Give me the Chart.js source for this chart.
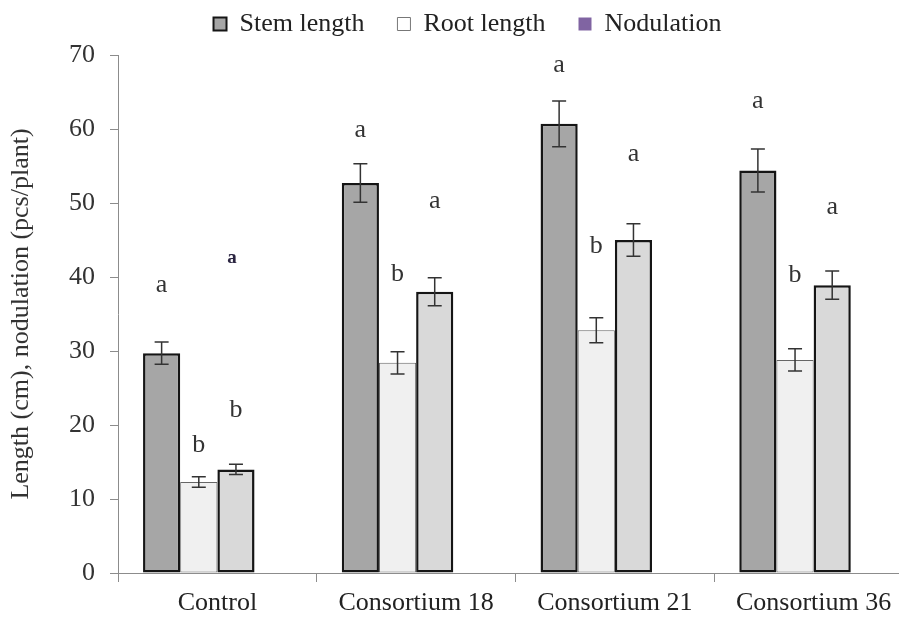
<!DOCTYPE html>
<html>
<head>
<meta charset="utf-8">
<title>Stem length, root length and nodulation</title>
<script src="https://cdn.jsdelivr.net/npm/chart.js@4.4.1/dist/chart.umd.min.js"></script>
<style>
  html, body { margin: 0; padding: 0; background: #fff; overflow: hidden; }
  #wrap { width: 915px; height: 617px; }
</style>
</head>
<body>
<div id="wrap"><canvas id="growthChart"></canvas></div>
<script>
const categories = ["Control", "Consortium 18", "Consortium 21", "Consortium 36"];

const stemLength = [29.7, 52.7, 60.7, 54.4];
const stemError = [1.5, 2.6, 3.1, 2.9];
const stemLetters = ["a", "a", "a", "a"];
const stemLetterAt = [38.9, 59.9, 68.6, 63.7];

const rootLength = [12.3, 28.4, 32.8, 28.8];
const rootError = [0.7, 1.5, 1.7, 1.5];
const rootLetters = ["b", "b", "b", "b"];
const rootLetterAt = [17.3, 40.4, 44.1, 40.3];

// third (light grey) bar of each group, it has no legend entry
const greyBar = [14.0, 38.0, 45.0, 38.9];
const greyError = [0.7, 1.9, 2.2, 1.9];
const greyLetters = ["b", "a", "a", "a"];
const greyLetterAt = [22.0, 50.2, 56.6, 49.4];

// nodulation is in the legend but has no bars (empty 4th slot)
const nodulation = [null, null, null, null];

// the small stray "a" over the control group
const strayLetter = "a";
const strayLetterAt = 42.6;

const yTicks = [0, 10, 20, 30, 40, 50, 60, 70];

const serif = "'Liberation Serif', 'Times New Roman', serif";
const axisGrey = "#8c8c8c";

// error bars
const errorBars = {
    id: "errorBars",
    afterDatasetsDraw(chart) {
        const ctx = chart.ctx;
        const y = chart.scales.y;
        ctx.save();
        ctx.strokeStyle = "#333";
        ctx.lineWidth = 1.5;
        chart.data.datasets.forEach((ds, i) => {
            if (!ds.errors) return;
            chart.getDatasetMeta(i).data.forEach((bar, j) => {
                const v = ds.data[j];
                const e = ds.errors[j];
                const top = y.getPixelForValue(v + e);
                const bot = y.getPixelForValue(v - e);
                ctx.beginPath();
                ctx.moveTo(bar.x, top); ctx.lineTo(bar.x, bot);
                ctx.moveTo(bar.x - 7, top); ctx.lineTo(bar.x + 7, top);
                ctx.moveTo(bar.x - 7, bot); ctx.lineTo(bar.x + 7, bot);
                ctx.stroke();
            });
        });
        ctx.restore();
    }
};

// significance letters
const letterMarks = {
    id: "letterMarks",
    afterDatasetsDraw(chart) {
        const ctx = chart.ctx;
        const y = chart.scales.y;
        ctx.save();
        ctx.textAlign = "center";
        ctx.textBaseline = "middle";
        ctx.fillStyle = "#333";
        ctx.font = "26px " + serif;
        chart.data.datasets.forEach((ds, i) => {
            if (!ds.letters) return;
            chart.getDatasetMeta(i).data.forEach((bar, j) => {
                ctx.fillText(ds.letters[j], bar.x, y.getPixelForValue(ds.letterAt[j]));
            });
        });
        const greyBar0 = chart.getDatasetMeta(2).data[0];
        ctx.font = "bold 19px " + serif;
        ctx.fillStyle = "#2a2440";
        ctx.fillText(strayLetter, greyBar0.x - 4, y.getPixelForValue(strayLetterAt));
        ctx.restore();
    }
};

// fixed legend height and position
const legendPlace = {
    id: "legendPlace",
    beforeInit(chart) {
        const fit = chart.legend.fit;
        chart.legend.fit = function () {
            fit.call(this);
            this.height = 55;
        };
    },
    afterLayout(chart) {
        const lg = chart.legend;
        lg.left += 11; lg.right += 11;
        lg.top -= 22; // bottom stays, so the descenders are not clipped
    }
};

new Chart(document.getElementById("growthChart"), {
    type: "bar",
    data: {
        labels: categories,
        datasets: [
            {
                label: "Stem length", data: stemLength, errors: stemError,
                letters: stemLetters, letterAt: stemLetterAt,
                backgroundColor: "#a6a6a6", borderColor: "#151515", borderWidth: 2.5, borderSkipped: false,
                legendFill: "#a6a6a6", legendStroke: "#151515", legendLine: 2
            },
            {
                label: "Root length", data: rootLength, errors: rootError,
                letters: rootLetters, letterAt: rootLetterAt,
                backgroundColor: "#f0f0f0", borderColor: "#666", borderWidth: 1, borderSkipped: false,
                legendFill: "#ffffff", legendStroke: "#777", legendLine: 1
            },
            {
                label: "", data: greyBar, errors: greyError,
                letters: greyLetters, letterAt: greyLetterAt,
                backgroundColor: "#d9d9d9", borderColor: "#151515", borderWidth: 2.5, borderSkipped: false
            },
            {
                label: "Nodulation", data: nodulation,
                backgroundColor: "#8064a2",
                legendFill: "#8064a2", legendStroke: "#8064a2", legendLine: 0
            }
        ]
    },
    options: {
        responsive: true,
        maintainAspectRatio: false,
        animation: false,
        layout: { padding: { right: 2 } },
        datasets: { bar: { categoryPercentage: 0.748, barPercentage: 1 } },
        plugins: {
            tooltip: { enabled: false },
            legend: {
                position: "top",
                labels: {
                    boxWidth: 13,
                    boxHeight: 13,
                    padding: 33,
                    color: "#222",
                    font: { family: serif, size: 26 },
                    generateLabels(chart) {
                        return chart.data.datasets
                            .map((ds, i) => ({
                                text: ds.label,
                                fillStyle: ds.legendFill,
                                strokeStyle: ds.legendStroke,
                                lineWidth: ds.legendLine,
                                fontColor: "#222",
                                hidden: false,
                                datasetIndex: i
                            }))
                            .filter(item => item.text);
                    }
                }
            }
        },
        scales: {
            x: {
                grid: { offset: true, drawOnChartArea: false, tickLength: 9, color: axisGrey },
                border: { color: axisGrey },
                ticks: { color: "#222", padding: 6, maxRotation: 0, font: { family: serif, size: 26 } },
                afterFit(scale) { scale.height = 44; }
            },
            y: {
                min: 0,
                max: 70,
                afterBuildTicks(scale) { scale.ticks = yTicks.map(v => ({ value: v })); },
                grid: { drawOnChartArea: false, tickLength: 8, color: axisGrey },
                border: { color: axisGrey },
                ticks: { color: "#333", padding: 15, font: { family: serif, size: 26 } },
                title: {
                    display: true,
                    text: "Length (cm), nodulation (pcs/plant)",
                    color: "#333",
                    font: { family: serif, size: 26 },
                    padding: { top: 6, bottom: 0 }
                },
                afterFit(scale) { scale.width = 118; }
            }
        }
    },
    plugins: [errorBars, letterMarks, legendPlace]
});
</script>
</body>
</html>
